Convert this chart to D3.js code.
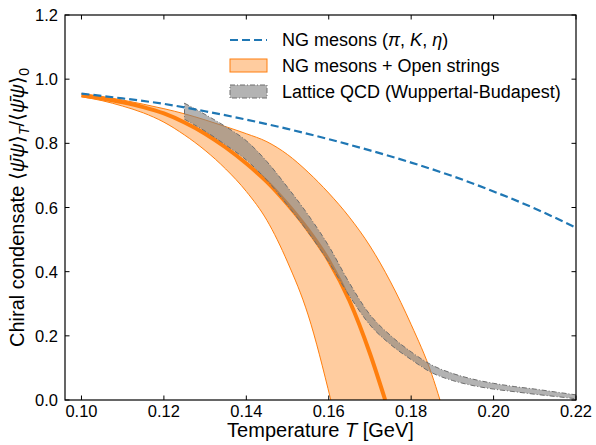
<!DOCTYPE html>
<html><head><meta charset="utf-8">
<script src="https://cdn.jsdelivr.net/npm/d3@7"></script>
<style>body{margin:0;background:#fff}svg{display:block}text{font-family:"Liberation Sans",Arial,sans-serif;fill:#000}</style>
</head><body><svg id="c" width="596" height="445"></svg>
<script>
// ---- data ----
const xTicks = [0.10, 0.12, 0.14, 0.16, 0.18, 0.20, 0.22];
const yTicks = [0.0, 0.2, 0.4, 0.6, 0.8, 1.0, 1.2];
const xTickLabels = ["0.10","0.12","0.14","0.16","0.18","0.20","0.22"];
const yTickLabels = ["0.0","0.2","0.4","0.6","0.8","1.0","1.2"];

const ngT   = [0.10, 0.11, 0.12, 0.13, 0.14, 0.15, 0.16, 0.17, 0.18, 0.19, 0.20, 0.21, 0.22];
const ngVal = [0.955, 0.940, 0.923, 0.900, 0.874, 0.845, 0.813, 0.778, 0.740, 0.698, 0.650, 0.597, 0.537];

const strT      = [0.100, 0.105, 0.110, 0.115, 0.120, 0.125, 0.130, 0.135, 0.140, 0.145, 0.150, 0.155, 0.160, 0.165, 0.170, 0.1737];
const strCenter = [0.950, 0.940, 0.928, 0.913, 0.893, 0.865, 0.830, 0.787, 0.737, 0.680, 0.610, 0.530, 0.435, 0.310, 0.145, 0.0];

const upT   = [0.100, 0.105, 0.110, 0.115, 0.120, 0.125, 0.130, 0.135, 0.140, 0.145, 0.150, 0.155, 0.160, 0.165, 0.170, 0.175, 0.180, 0.185, 0.187];
const upVal = [0.955, 0.946, 0.935, 0.922, 0.908, 0.892, 0.873, 0.852, 0.830, 0.805, 0.765, 0.710, 0.645, 0.570, 0.480, 0.368, 0.235, 0.080, 0.0];

const lowT   = [0.100, 0.105, 0.110, 0.115, 0.120, 0.125, 0.130, 0.135, 0.140, 0.145, 0.150, 0.155, 0.1605];
const lowVal = [0.945, 0.933, 0.916, 0.895, 0.866, 0.826, 0.778, 0.720, 0.650, 0.560, 0.430, 0.265, 0.0];

const latT    = [0.125, 0.130, 0.135, 0.140, 0.145, 0.150, 0.155, 0.160, 0.165, 0.170, 0.175, 0.180, 0.185, 0.190, 0.195, 0.200, 0.205, 0.210, 0.215, 0.220];
const latLow  = [0.875, 0.838, 0.795, 0.748, 0.685, 0.607, 0.523, 0.430, 0.325, 0.234, 0.173, 0.126, 0.085, 0.061, 0.045, 0.034, 0.026, 0.018, 0.011, 0.004];
const latHigh = [0.925, 0.890, 0.852, 0.808, 0.743, 0.663, 0.577, 0.480, 0.365, 0.266, 0.201, 0.150, 0.109, 0.083, 0.065, 0.052, 0.042, 0.034, 0.025, 0.016];

// ---- layout ----
const svg = d3.select("#c");
const L = 65, R = 576, T = 15, B = 400;
const x = d3.scaleLinear().domain([0.096, 0.22]).range([L, R]);
const y = d3.scaleLinear().domain([0, 1.2]).range([B, T]);

const defs = svg.append("defs");
defs.append("clipPath").attr("id","clip").append("rect").attr("x",L).attr("y",T).attr("width",R-L).attr("height",B-T);
const g = svg.append("g").attr("clip-path","url(#clip)");

const lineGen = d3.line().x(d=>x(d[0])).y(d=>y(d[1])).curve(d3.curveMonotoneX);

// orange band
const bandUp = upT.map((t,i)=>[t, upVal[i]]);
const bandLow = lowT.map((t,i)=>[t, lowVal[i]]);
g.append("path")
  .attr("d", lineGen(bandUp) + "L" + lineGen(bandLow.slice().reverse()).slice(1) + "Z")
  .attr("fill","#ff7f0e").attr("fill-opacity",0.4).attr("stroke","none");
g.append("path").attr("d", lineGen(bandUp)).attr("fill","none").attr("stroke","#ff7f0e").attr("stroke-width",1);
g.append("path").attr("d", lineGen(bandLow)).attr("fill","none").attr("stroke","#ff7f0e").attr("stroke-width",1);

// central line
g.append("path").attr("d", lineGen(strT.map((t,i)=>[t,strCenter[i]])))
  .attr("fill","none").attr("stroke","#ff7f0e").attr("stroke-width",4);

// lattice band
const area = d3.area().x(d=>x(latT[d])).y0(d=>y(latLow[d])).y1(d=>y(latHigh[d])).curve(d3.curveMonotoneX);
g.append("path").attr("d", area(d3.range(latT.length)))
  .attr("fill","#808080").attr("fill-opacity",0.6)
  .attr("stroke","#6e6e6e").attr("stroke-width",1).attr("stroke-dasharray","5,2,1,2");

// NG mesons dashed
g.append("path").attr("d", lineGen(ngT.map((t,i)=>[t,ngVal[i]])))
  .attr("fill","none").attr("stroke","#1f77b4").attr("stroke-width",2.2).attr("stroke-dasharray","8,4");

// frame
svg.append("rect").attr("x",L).attr("y",T).attr("width",R-L).attr("height",B-T)
  .attr("fill","none").attr("stroke","#000").attr("stroke-width",1.2);

// ticks (inward, all sides)
const tl = 4.5;
xTicks.forEach((v,i)=>{
  const px = x(v);
  svg.append("line").attr("x1",px).attr("x2",px).attr("y1",B).attr("y2",B-tl).attr("stroke","#000");
  svg.append("line").attr("x1",px).attr("x2",px).attr("y1",T).attr("y2",T+tl).attr("stroke","#000");
  svg.append("text").attr("x",px).attr("y",B+16.5).attr("text-anchor","middle").attr("font-size",16.5).text(xTickLabels[i]);
});
yTicks.forEach((v,i)=>{
  const py = y(v);
  svg.append("line").attr("x1",L).attr("x2",L+tl).attr("y1",py).attr("y2",py).attr("stroke","#000");
  svg.append("line").attr("x1",R).attr("x2",R-tl).attr("y1",py).attr("y2",py).attr("stroke","#000");
  svg.append("text").attr("x",L-7).attr("y",py+6).attr("text-anchor","end").attr("font-size",16.5).text(yTickLabels[i]);
});

// axis titles
const xt = svg.append("text").attr("x",(L+R)/2).attr("y",437).attr("text-anchor","middle").attr("font-size",20);
xt.append("tspan").text("Temperature ");
xt.append("tspan").attr("font-style","italic").text("T");
xt.append("tspan").text(" [GeV]");

const yt = svg.append("text").attr("transform",`translate(24,${(T+B)/2}) rotate(-90)`).attr("text-anchor","middle").attr("font-size",20);
yt.append("tspan").text("Chiral condensate ⟨");
yt.append("tspan").attr("font-style","italic").text("ψ\u0304ψ");
yt.append("tspan").text("⟩");
yt.append("tspan").attr("font-style","italic").attr("font-size",14).attr("dy",5).text("T");
yt.append("tspan").attr("dy",-5).text("/⟨");
yt.append("tspan").attr("font-style","italic").text("ψ\u0304ψ");
yt.append("tspan").text("⟩");
yt.append("tspan").attr("font-size",14).attr("dy",5).text("0");

// legend
const lx = 230, lw = 37, tx = 282;
svg.append("line").attr("x1",lx).attr("x2",lx+lw).attr("y1",40).attr("y2",40)
  .attr("stroke","#1f77b4").attr("stroke-width",2.2).attr("stroke-dasharray","8,4");
const t1 = svg.append("text").attr("x",tx).attr("y",46).attr("font-size",18);
t1.append("tspan").text("NG mesons (");
t1.append("tspan").attr("font-style","italic").text("π");
t1.append("tspan").text(", ");
t1.append("tspan").attr("font-style","italic").text("K");
t1.append("tspan").text(", ");
t1.append("tspan").attr("font-style","italic").text("η");
t1.append("tspan").text(")");

svg.append("rect").attr("x",lx).attr("y",59).attr("width",lw).attr("height",13)
  .attr("fill","#ff7f0e").attr("fill-opacity",0.4).attr("stroke","#ff7f0e").attr("stroke-width",1);
svg.append("text").attr("x",tx).attr("y",72).attr("font-size",18).text("NG mesons + Open strings");

svg.append("rect").attr("x",lx).attr("y",85).attr("width",lw).attr("height",13)
  .attr("fill","#808080").attr("fill-opacity",0.6).attr("stroke","#6e6e6e").attr("stroke-width",1).attr("stroke-dasharray","5,2,1,2");
svg.append("text").attr("x",tx).attr("y",98).attr("font-size",18).text("Lattice QCD (Wuppertal-Budapest)");
</script></body></html>
